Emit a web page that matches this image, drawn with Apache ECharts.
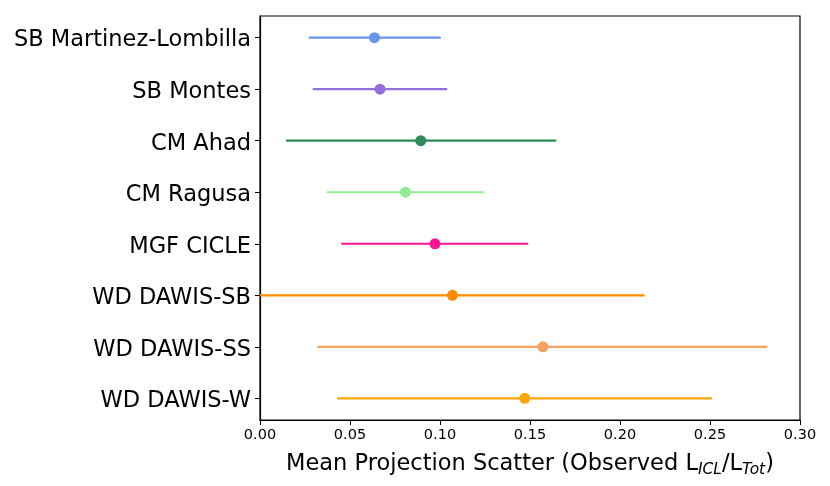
<!DOCTYPE html>
<html>
<head>
<meta charset="utf-8">
<script src="https://cdn.jsdelivr.net/npm/echarts@6/dist/echarts.min.js"></script>
<style>
  html, body { margin: 0; padding: 0; background: #fff; }
  #main { width: 830px; height: 486px; }
</style>
</head>
<body>
<div id="main"></div>
<script>
// 方法名称（从上到下）
const methods = ['SB Martinez-Lombilla', 'SB Montes', 'CM Ahad', 'CM Ragusa',
  'MGF CICLE', 'WD DAWIS-SB', 'WD DAWIS-SS', 'WD DAWIS-W'];
// 平均值和误差范围
const means = [0.0636, 0.0667, 0.0893, 0.0808, 0.0972, 0.1069, 0.1572, 0.1471];
const lows  = [0.0271, 0.0293, 0.0145, 0.0371, 0.0451, -0.005, 0.0319, 0.0428];
const highs = [0.1004, 0.1040, 0.1646, 0.1246, 0.1490, 0.2137, 0.2818, 0.2510];
const colors = ['#6495ED', '#9370DB', '#2E8B57', '#90EE90', '#FF1493', '#FF8C00', '#F4A460', '#FFA500'];
const xTicks = [0, 0.05, 0.10, 0.15, 0.20, 0.25, 0.30];

let myChart = echarts.init(document.getElementById('main'));

const rowIdx = methods.map((m, i) => i);
const font = 'DejaVu Sans';

let option = {
  animation: false,
  textStyle: { fontFamily: font },
  grid: {
    left: 260, right: 30, top: 16, bottom: 66,
    show: true, borderColor: '#000', borderWidth: 1.2
  },
  xAxis: {
    type: 'value', min: 0, max: 0.3, interval: 0.05,
    axisLine: { show: true, onZero: false, lineStyle: { color: '#000', width: 1.2 } },
    axisTick: { show: true, length: 5, customValues: xTicks, lineStyle: { color: '#000' } },
    splitLine: { show: false },
    axisLabel: { color: '#000', fontSize: 14.5, margin: 8, customValues: xTicks, formatter: v => v.toFixed(2) },
    name: '{n|Mean Projection Scatter (Observed L}{s|ICL}{n|/L}{s|Tot}{n|)}',
    nameLocation: 'middle', nameGap: 31,
    nameTextStyle: {
      rich: {
        n: { fontSize: 22.5, color: '#000', fontFamily: font },
        s: { fontSize: 15.5, color: '#000', fontStyle: 'italic', fontFamily: font, padding: [11, 0, 0, 0] }
      }
    }
  },
  yAxis: {
    type: 'value', inverse: true, min: -0.42, max: 7.42,
    axisLine: { show: true, onZero: false, lineStyle: { color: '#000', width: 1.2 } },
    axisTick: { show: true, length: 5, lineStyle: { color: '#000' }, customValues: rowIdx },
    splitLine: { show: false },
    axisLabel: {
      margin: 9,
      customValues: rowIdx,
      formatter: v => '{a|' + (methods[Math.round(v)] || '') + '}',
      rich: {
        a: { color: '#000', fontSize: 22.5, fontFamily: font, padding: [6, 0, 0, 0] }
      }
    }
  },
  series: [
    {
      type: 'custom',
      clip: true,
      data: rowIdx.map(i => [lows[i], highs[i], i]),
      renderItem: (params, api) => {
        const a = api.coord([api.value(0), api.value(2)]);
        const b = api.coord([api.value(1), api.value(2)]);
        return {
          type: 'line',
          shape: { x1: a[0], y1: a[1], x2: b[0], y2: b[1] },
          style: { stroke: colors[params.dataIndex], lineWidth: 2.2 }
        };
      },
      z: 2
    },
    {
      type: 'scatter',
      symbol: 'circle',
      symbolSize: 11,
      data: rowIdx.map(i => ({ value: [means[i], i], itemStyle: { color: colors[i], opacity: 1 } })),
      z: 3
    }
  ]
};

myChart.setOption(option);
</script>
</body>
</html>
